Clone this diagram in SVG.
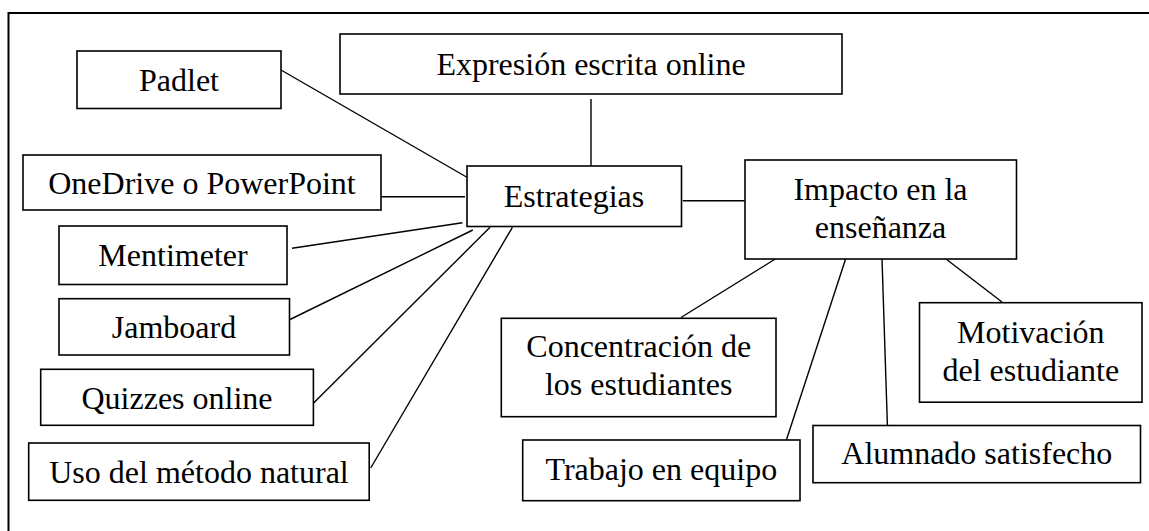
<svg xmlns="http://www.w3.org/2000/svg" width="1149" height="531" viewBox="0 0 1149 531">
<style>
rect.box{fill:#fff;stroke:#000;stroke-width:1.6}
text{font-family:"Liberation Serif","Times New Roman",serif;font-size:32px;fill:#000;text-anchor:middle}
#connectors line{stroke:#000;stroke-width:1.4}
</style>
<rect x="0" y="0" width="1149" height="531" fill="#fff"/>
<path d="M8.5,531 V13 H1149" fill="none" stroke="#000" stroke-width="2"/>
<g id="connectors">
<line x1="591" y1="99" x2="591" y2="165.5"/>
<line x1="281" y1="70" x2="471.7" y2="180"/>
<line x1="381" y1="196.7" x2="465" y2="196.7"/>
<line x1="292" y1="248.3" x2="462.5" y2="222.7"/>
<line x1="290" y1="319.5" x2="472.8" y2="230"/>
<line x1="312.6" y1="404" x2="490" y2="227.3"/>
<line x1="370.7" y1="468" x2="512.4" y2="227.3"/>
<line x1="682.8" y1="200.7" x2="744.6" y2="200.7"/>
<line x1="775.3" y1="259" x2="681" y2="317.5"/>
<line x1="845.6" y1="259" x2="786.4" y2="440"/>
<line x1="882" y1="259" x2="887.4" y2="425"/>
<line x1="946" y1="259" x2="1002" y2="302"/>
</g>
<g id="padlet"><rect class="box" x="77" y="51" width="204" height="57.5"/><text x="179" y="90.5">Padlet</text></g>
<g id="expresion"><rect class="box" x="340" y="34" width="502" height="60"/><text x="591" y="74.5">Expresión escrita online</text></g>
<g id="onedrive"><rect class="box" x="23" y="155" width="358" height="55"/><text x="202" y="194">OneDrive o PowerPoint</text></g>
<g id="estrategias"><rect class="box" x="467" y="166" width="214.5" height="60.5"/><text x="574" y="206.5">Estrategias</text></g>
<g id="impacto"><rect class="box" x="745" y="160" width="271.5" height="99"/><text x="880.5" y="200">Impacto en la</text><text x="880.5" y="238">enseñanza</text></g>
<g id="mentimeter"><rect class="box" x="59" y="226" width="228" height="58.5"/><text x="173" y="266">Mentimeter</text></g>
<g id="jamboard"><rect class="box" x="59" y="298.7" width="230.5" height="56.3"/><text x="174" y="338">Jamboard</text></g>
<g id="quizzes"><rect class="box" x="40.7" y="369.3" width="272.7" height="56"/><text x="177" y="408.5">Quizzes online</text></g>
<g id="uso"><rect class="box" x="28.7" y="443" width="340.5" height="57.3"/><text x="199" y="483">Uso del método natural</text></g>
<g id="concentracion"><rect class="box" x="501.3" y="318.3" width="274.7" height="98.4"/><text x="638.7" y="356.7">Concentración de</text><text x="638.7" y="395">los estudiantes</text></g>
<g id="trabajo"><rect class="box" x="522.7" y="440" width="277.3" height="60.7"/><text x="661.3" y="480">Trabajo en equipo</text></g>
<g id="alumnado"><rect class="box" x="813" y="425.5" width="327.5" height="57.2"/><text x="976.8" y="464.3">Alumnado satisfecho</text></g>
<g id="motivacion"><rect class="box" x="919.5" y="302.7" width="222.5" height="99.5"/><text x="1030.8" y="342.7">Motivación</text><text x="1030.8" y="381">del estudiante</text></g>
</svg>
